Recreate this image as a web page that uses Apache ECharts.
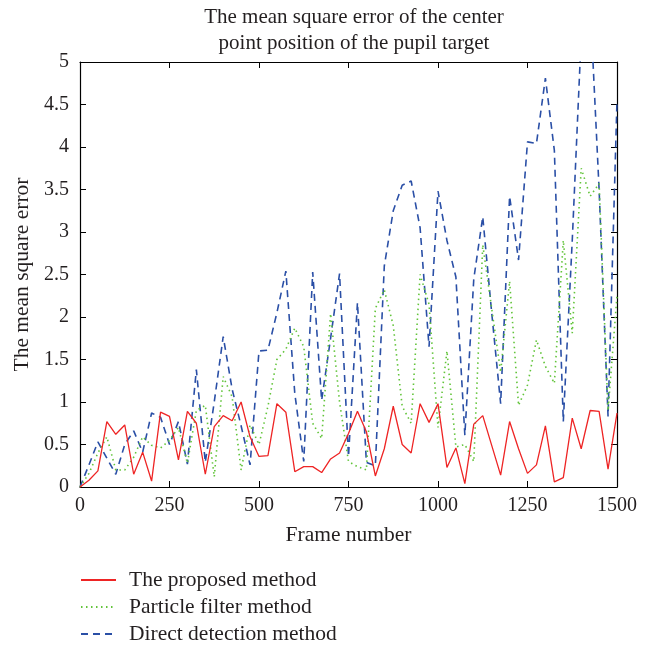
<!DOCTYPE html>
<html>
<head>
<meta charset="utf-8">
<script src="https://cdn.jsdelivr.net/npm/echarts@6/dist/echarts.min.js"></script>
<style>html,body{margin:0;padding:0;background:#fff;}#c{width:650px;height:646px;}</style>
</head>
<body>
<div id="c"></div>
<script>
const titleText = 'The mean square error of the center\npoint position of the pupil target';
const xName = 'Frame number';
const yName = 'The mean square error';
const seriesNames = ['The proposed method', 'Particle filter method', 'Direct detection method'];
const frames = [0,25,50,75,100,125,150,175,200,225,250,275,300,325,350,375,400,425,450,475,500,525,550,575,600,625,650,675,700,725,750,775,800,825,850,875,900,925,950,975,1000,1025,1050,1075,1100,1125,1150,1175,1200,1225,1250,1275,1300,1325,1350,1375,1400,1425,1450,1475,1500];
const proposed = [0,0.08,0.19,0.77,0.62,0.73,0.15,0.41,0.07,0.88,0.83,0.32,0.89,0.75,0.15,0.71,0.84,0.78,1.0,0.59,0.36,0.37,0.98,0.88,0.18,0.24,0.24,0.17,0.33,0.40,0.63,0.89,0.65,0.13,0.45,0.95,0.50,0.40,0.98,0.76,0.98,0.23,0.46,0.04,0.74,0.84,0.49,0.14,0.77,0.45,0.16,0.26,0.72,0.06,0.11,0.81,0.45,0.90,0.89,0.21,0.87];
const particle = [0,0.16,0.4,0.59,0.2,0.2,0.35,0.59,0.49,0.46,0.55,0.7,0.28,0.9,0.96,0.12,1.3,1.06,0.2,0.73,0.5,0.95,1.5,1.62,1.87,1.65,0.75,0.57,2.04,1.0,0.3,0.24,0.2,2.1,2.32,1.9,0.95,0.75,2.5,2.15,0.7,1.6,0.47,0.5,0.3,2.85,2.1,1.35,2.42,0.96,1.2,1.73,1.42,1.22,2.9,1.81,3.75,3.42,3.57,0.9,2.25];
const direct = [0,0.26,0.53,0.34,0.15,0.5,0.66,0.41,0.87,0.82,0.50,0.77,0.27,1.38,0.29,1.0,1.77,1.15,0.72,0.26,1.6,1.61,2.05,2.54,1.1,0.30,2.53,1.02,1.75,2.51,0.36,2.17,0.29,0.25,2.6,3.25,3.55,3.6,3.05,1.65,3.48,2.9,2.47,0.61,2.45,3.18,2.05,0.98,3.42,2.67,4.06,4.04,4.81,3.96,0.77,2.9,5.3,5.7,3.5,0.83,4.55];

const FONT = 'Liberation Serif';
const TXT = '#231f20';
const pair = arr => frames.map((f, i) => [f, arr[i]]);
const plain = v => String(v);

const chart = echarts.init(document.getElementById('c'), null, {renderer: 'canvas'});
const tickStyle = {show: true, inside: true, length: 6, lineStyle: {color: '#000', width: 1}};
const lineAx = {show: true, onZero: false, lineStyle: {color: '#000', width: 1.2}};
const legendTops = [569, 596, 623];
const legends = seriesNames.map((n, i) => ({
  orient: 'vertical', left: 80, top: legendTops[i], padding: 0,
  itemWidth: 35, itemHeight: 14,
  itemStyle: {opacity: 0},
  data: [n],
  textStyle: {fontFamily: FONT, fontSize: 21.5, color: TXT, padding: [0, 0, 0, 8]}
}));
chart.setOption({
  animation: false,
  backgroundColor: '#fff',
  title: {
    text: titleText,
    left: 349, top: -1, textAlign: 'center',
    textStyle: {fontFamily: FONT, fontSize: 21, fontWeight: 'normal', color: TXT, lineHeight: 26}
  },
  grid: {left: 80, right: 33, top: 62, bottom: 159, containLabel: false},
  legend: legends,
  xAxis: [
    {type: 'value', position: 'bottom', min: 0, max: 1500, interval: 250,
     axisLine: lineAx, axisTick: tickStyle, splitLine: {show: false},
     axisLabel: {fontFamily: FONT, fontSize: 20, color: TXT, margin: 9, formatter: plain},
     name: xName, nameLocation: 'middle', nameGap: 37,
     nameTextStyle: {fontFamily: FONT, fontSize: 21.5, color: TXT}},
    {type: 'value', position: 'top', min: 0, max: 1500, interval: 250,
     axisLine: lineAx, axisTick: tickStyle, splitLine: {show: false}, axisLabel: {show: false}}
  ],
  yAxis: [
    {type: 'value', position: 'left', min: 0, max: 5, interval: 0.5,
     axisLine: lineAx, axisTick: tickStyle, splitLine: {show: false},
     axisLabel: {fontFamily: FONT, fontSize: 20, color: TXT, margin: 11, formatter: plain},
     name: yName, nameLocation: 'middle', nameGap: 45, nameRotate: 90,
     nameTextStyle: {fontFamily: FONT, fontSize: 21.5, color: TXT}},
    {type: 'value', position: 'right', min: 0, max: 5, interval: 0.5,
     axisLine: lineAx, axisTick: tickStyle, splitLine: {show: false}, axisLabel: {show: false}}
  ],
  series: [
    {name: seriesNames[2], type: 'line', data: pair(direct), symbol: 'none', showSymbol: false, clip: true,
     color: '#2a4fa6', lineStyle: {color: '#2a4fa6', width: 1.6, type: [7, 5]}},
    {name: seriesNames[1], type: 'line', data: pair(particle), symbol: 'none', showSymbol: false, clip: true,
     color: '#62c43a', lineStyle: {color: '#62c43a', width: 1.6, type: [1.5, 3.5]}},
    {name: seriesNames[0], type: 'line', data: pair(proposed), symbol: 'none', showSymbol: false, clip: true,
     color: '#ee2424', lineStyle: {color: '#ee2424', width: 1.3, type: 'solid'}}
  ]
});
</script>
</body>
</html>
